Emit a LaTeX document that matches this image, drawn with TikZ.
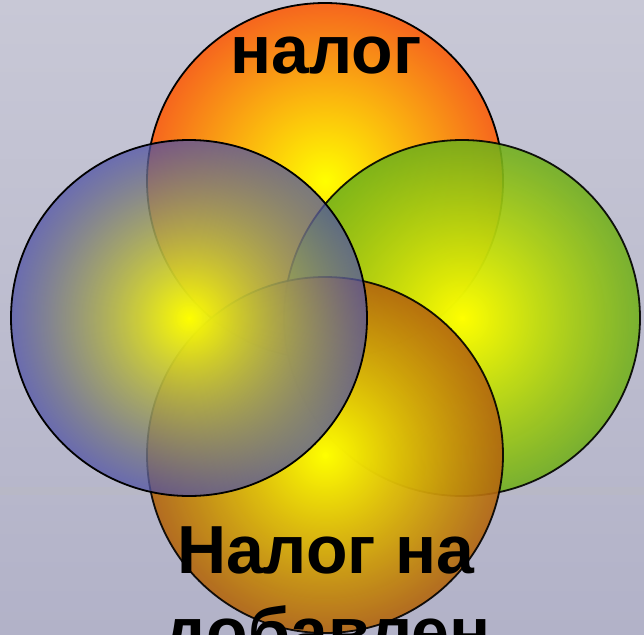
\documentclass[tikz,border=0pt]{standalone}
\usepackage{fontspec}
\setmainfont{Liberation Sans}
\usetikzlibrary{fadings}
\definecolor{bgtop}{RGB}{200,200,214}
\definecolor{bgbot}{RGB}{178,178,200}
\definecolor{bandc}{RGB}{186,186,196}
\definecolor{cyel}{RGB}{255,255,0}
\definecolor{orangeedge}{RGB}{246,102,30}
\definecolor{greenedge}{RGB}{112,175,28}
\definecolor{brownedge}{RGB}{178,100,15}
\definecolor{blueedge}{RGB}{80,82,165}
\tikzfading[name=greenfade, inner color=transparent!0, outer color=transparent!12]
\tikzfading[name=brownfade, inner color=transparent!0, outer color=transparent!10]
\tikzfading[name=bluefade, inner color=transparent!0, outer color=transparent!25]
\tikzset{
  ring/.style={draw=black, line width=1.8pt},
  label/.style={font=\fontsize{68}{82}\selectfont\bfseries, anchor=base, inner sep=0pt},
}
\begin{document}
\begin{tikzpicture}[x=1pt,y=-1pt]
\useasboundingbox (0,0) rectangle (644,634);
\shade[top color=bgtop, bottom color=bgbot] (0,0) rectangle (644,634);
\fill[bandc, opacity=0.6] (0,487) rectangle (644,495);
\begin{scope}
\clip (0,0) rectangle (644,634);
% top circle
\shade[inner color=cyel, outer color=orangeedge] (325,181) circle[radius=178];
\draw[ring] (325,181) circle[radius=178];
% right circle
\shade[inner color=cyel, outer color=greenedge, path fading=greenfade] (462,318) circle[radius=178];
\draw[ring, draw opacity=0.9] (462,318) circle[radius=178];
% bottom circle
\shade[inner color=cyel, outer color=brownedge, path fading=brownfade] (325,455) circle[radius=178];
\draw[ring, draw opacity=0.9] (325,455) circle[radius=178];
% left circle
\shade[inner color=cyel, outer color=blueedge, path fading=bluefade] (189,318) circle[radius=178];
\draw[ring] (189,318) circle[radius=178];
\node[label] (t1) at (326,73) {налог};
\node[label] (t2) at (325.5,573) {Налог на};
\node[label] (t3) at (327,655) {добавлен};
\end{scope}
\end{tikzpicture}
\end{document}
